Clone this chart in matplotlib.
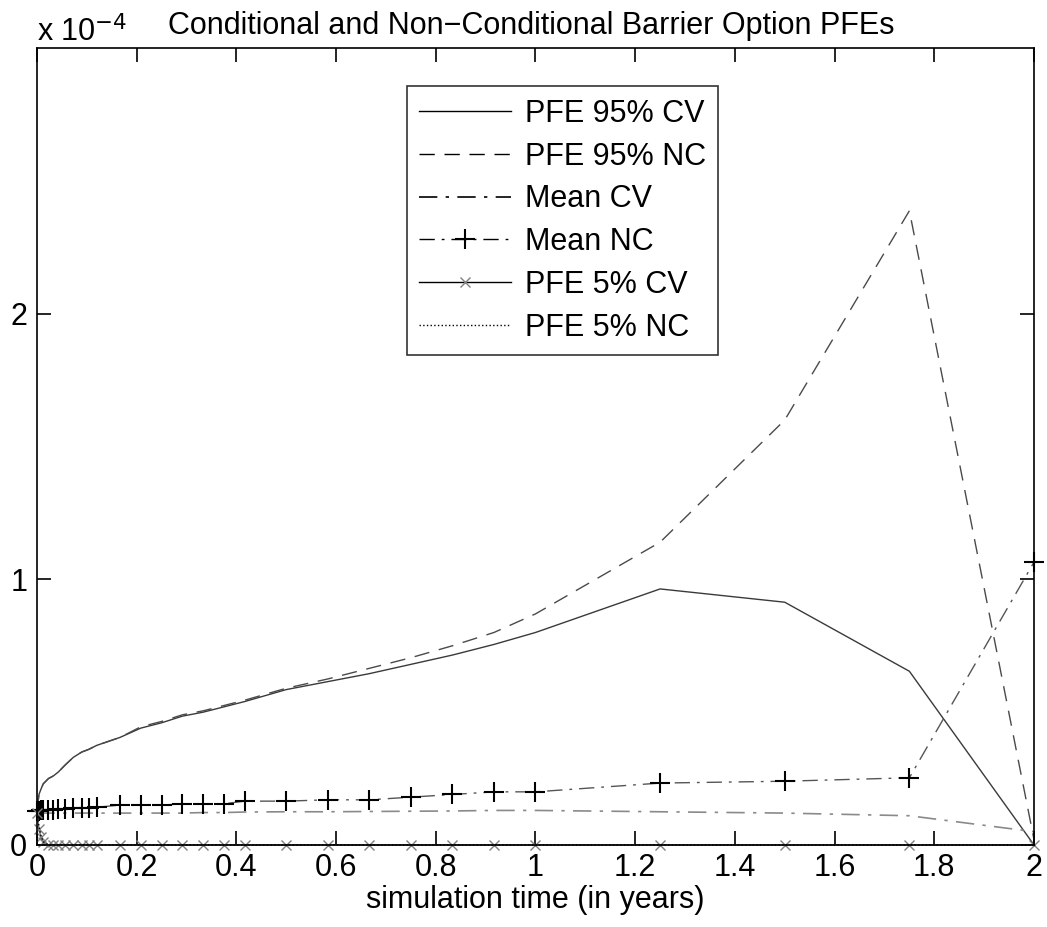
import matplotlib.pyplot as plt

# время симуляции (годы)
t = [0, 0.004, 0.008, 0.0125, 0.023, 0.033, 0.043, 0.056, 0.073, 0.09, 0.104, 0.12,
     1/6, 5/24, 0.25, 7/24, 1/3, 0.375, 5/12, 0.5, 7/12, 2/3, 0.75, 5/6, 11/12, 1.0,
     1.25, 1.5, 1.75, 2.0]

# значения в единицах 1e-4
pfe95_cv = [0.13, 0.19, 0.21, 0.23, 0.25, 0.26, 0.275, 0.30, 0.33, 0.35, 0.36, 0.375,
            0.405, 0.44, 0.46, 0.485, 0.50, 0.52, 0.54, 0.585, 0.615, 0.645, 0.68, 0.715, 0.755, 0.80,
            0.964, 0.914, 0.654, 0.0]
pfe95_nc = [0.13, 0.19, 0.21, 0.23, 0.25, 0.26, 0.275, 0.30, 0.33, 0.35, 0.36, 0.375,
            0.405, 0.445, 0.465, 0.49, 0.505, 0.525, 0.545, 0.59, 0.625, 0.665, 0.705, 0.75, 0.80, 0.87,
            1.14, 1.60, 2.388, 0.02]
mean_cv = [0.126, 0.12, 0.12, 0.12, 0.12, 0.12, 0.12, 0.12, 0.12, 0.12, 0.12, 0.12,
           0.12, 0.12, 0.12, 0.12, 0.122, 0.122, 0.124, 0.125, 0.125, 0.126, 0.127, 0.128, 0.13, 0.13,
           0.125, 0.12, 0.11, 0.05]
mean_nc = [0.126, 0.128, 0.13, 0.13, 0.132, 0.133, 0.135, 0.136, 0.138, 0.14, 0.14, 0.142,
           0.15, 0.15, 0.15, 0.155, 0.155, 0.155, 0.165, 0.165, 0.17, 0.17, 0.18, 0.19, 0.2, 0.2,
           0.233, 0.24, 0.253, 1.065]
pfe5_cv = [0.12, 0.06, 0.03, 0.01] + [0.0] * 26
pfe5_nc = [0.12, 0.07, 0.035, 0.012] + [0.0] * 26

plt.rcParams['font.family'] = ['Liberation Sans', 'DejaVu Sans']

fig = plt.figure(figsize=(10.47, 9.27), dpi=100)
ax = fig.add_axes([0.0353, 0.0885, 0.9523, 0.8595])

ax.plot(t, pfe95_cv, '-', color='#3a3a3a', lw=1.0, label='PFE 95% CV', clip_on=False)
ax.plot(t, pfe95_nc, color='#4a4a4a', lw=1.0, dashes=(11, 7), label='PFE 95% NC', clip_on=False)
ax.plot(t, mean_cv, color='#8a8a8a', lw=1.2, dashes=(11, 5, 2, 5), label='Mean CV', clip_on=False)
ax.plot(t, mean_nc, color='#555555', lw=1.0, dashes=(11, 5, 2, 5), marker='+',
        markersize=15, markeredgewidth=1.5, markeredgecolor='k', label='Mean NC', clip_on=False)
ax.plot(t, pfe5_cv, '-', color='#707070', lw=1.0, marker='x', markersize=7,
        markeredgecolor='#808080', label='PFE 5% CV', clip_on=False)
ax.plot(t, pfe5_nc, ':', color='k', lw=1.0, label='PFE 5% NC', clip_on=False)

ax.set_xlim(0, 2)
ax.set_ylim(0, 3)
ax.set_xticks([0, 0.2, 0.4, 0.6, 0.8, 1, 1.2, 1.4, 1.6, 1.8, 2])
ax.set_xticklabels(['0', '0.2', '0.4', '0.6', '0.8', '1', '1.2', '1.4', '1.6', '1.8', '2'])
ax.set_yticks([0, 1, 2])
ax.set_yticklabels(['0', '1', '2'])
ax.tick_params(direction='in', top=True, right=True, length=10, width=1.2, labelsize=22)
ax.tick_params(axis='x', pad=6)
ax.tick_params(axis='y', pad=7)
for s in ax.spines.values():
    s.set_linewidth(1.2)

ax.set_xlabel('simulation time (in years)', fontsize=22, labelpad=1)
fig.text(0.035, 0.965, r'x 10$^{-4}$', fontsize=22, ha='left', va='center')
fig.text(0.16, 0.972, 'Conditional and Non\u2212Conditional Barrier Option PFEs',
         fontsize=22, ha='left', va='center')

leg = ax.legend(loc='upper left', bbox_to_anchor=(0.371, 0.952), fontsize=22,
                frameon=True, fancybox=False, edgecolor='k', handlelength=3.0,
                borderpad=0.4, labelspacing=0.42, handletextpad=0.45, borderaxespad=0)
leg.get_frame().set_linewidth(1.2)
for h in leg.get_lines():
    h.set_color('k')

fig.savefig('out.png', dpi=100)
